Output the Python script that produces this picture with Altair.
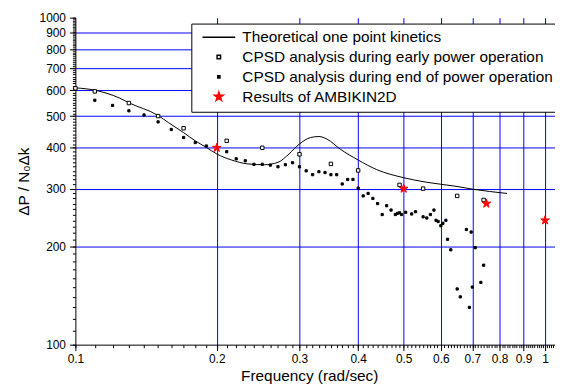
import altair as alt
import pandas as pd

# Theoretical one point kinetics curve
theory_f = [0.1, 0.11, 0.124, 0.13, 0.15, 0.158, 0.17, 0.18, 0.19, 0.2, 0.215, 0.233,
            0.2525, 0.27, 0.285, 0.3, 0.317, 0.33, 0.3435, 0.3665, 0.4, 0.438, 0.5,
            0.558, 0.646, 0.70, 0.83]
theory_v = [610, 600, 568, 549, 502, 477, 445, 420, 401, 383, 367, 357,
            355, 361, 383, 411, 430, 433, 425, 396, 367, 343, 324,
            314, 305, 299, 290]

# CPSD early power operation
early_f = [0.1, 0.11, 0.13, 0.15, 0.17, 0.21, 0.25, 0.30, 0.35, 0.40, 0.49, 0.55, 0.65, 0.74]
early_v = [608, 595, 548, 500, 459, 420, 400, 382, 357, 341, 308, 300, 285, 277]

# CPSD end of power operation
end_f = [0.11, 0.12, 0.13, 0.14, 0.15, 0.16, 0.17, 0.18, 0.19, 0.21, 0.22, 0.23, 0.24, 0.25,
         0.26, 0.27, 0.28, 0.29, 0.30, 0.31, 0.32, 0.33, 0.34, 0.35, 0.36, 0.37, 0.38, 0.39,
         0.40, 0.41, 0.42, 0.43, 0.44, 0.45, 0.46, 0.47, 0.48, 0.485, 0.49, 0.495, 0.505,
         0.52, 0.53, 0.55, 0.56, 0.57, 0.58, 0.586, 0.592, 0.60, 0.606, 0.615, 0.62, 0.63,
         0.65, 0.66, 0.68, 0.69, 0.696, 0.70, 0.71, 0.73, 0.74]
end_v = [559, 539, 519, 504, 480, 455, 430, 415, 405, 389, 370, 365, 356, 356,
         354, 350, 355, 360, 350, 340, 331, 338, 336, 331, 331, 310, 320, 320,
         301, 285, 290, 280, 270, 250, 266, 258, 250, 252, 253, 250, 254,
         251, 255, 246, 244, 250, 258, 240, 238, 231, 235, 240, 210, 195,
         148, 140, 225, 130, 221, 150, 198, 155, 175]

# AMBIKIN2D results
amb_f = [0.2, 0.5, 0.75, 1.0]
amb_v = [400, 300, 270, 240]

series_names = ["Theoretical one point kinetics",
                "CPSD analysis during early power operation",
                "CPSD analysis during end of power operation",
                "Results of AMBIKIN2D"]

x_major_ticks = [round(i / 10, 1) for i in range(1, 11)]
x_minor_ticks = [round(i / 100, 2) for i in range(10, 106)]
y_major_ticks = list(range(100, 1001, 100))
y_minor_ticks = list(range(100, 1001, 10))

STAR = ("M0,-1L0.2245,-0.309L0.9511,-0.309L0.3633,0.118L0.5878,0.809L0,0.382"
        "L-0.5878,0.809L-0.3633,0.118L-0.9511,-0.309L-0.2245,-0.309Z")
LINE_SYM = "M-8,0L8,0"

line_df = pd.DataFrame({"f": theory_f, "v": theory_v})
pts_df = pd.concat([
    pd.DataFrame({"f": early_f, "v": early_v, "series": series_names[1]}),
    pd.DataFrame({"f": end_f, "v": end_v, "series": series_names[2]}),
    pd.DataFrame({"f": amb_f, "v": amb_v, "series": series_names[3]}),
])

FONT = "Liberation Sans"

x_scale = alt.Scale(type="log", domain=[0.1, 1.05], nice=False)
y_scale = alt.Scale(type="log", domain=[100, 1000], nice=False)

x_axis_major = alt.Axis(
    orient="bottom", values=x_major_ticks, title="Frequency (rad/sec)",
    labelExpr="format(datum.value, '.1~f')",
    labelOverlap=False, labelFlush=False, labelBound=False, tickSize=6,
    grid=True, gridColor="#0000FF", gridWidth=1,
    gridOpacity={"condition": {"test": "datum.value > 0.15", "value": 1}, "value": 0},
    labelPadding=3, titlePadding=4, titleX=236,
)
y_axis_major = alt.Axis(
    orient="left", values=y_major_ticks, title="ΔP / N₀Δk",
    labelExpr="format(datum.value, 'd')",
    labelOverlap=False, labelFlush=False, labelBound=False, tickSize=6,
    grid=True, gridColor="#0000FF", gridWidth=1,
    gridOpacity={"condition": {"test": "datum.value > 150 && datum.value < 950", "value": 1}, "value": 0},
    labelPadding=4, titlePadding=8,
)
x_axis_minor = alt.Axis(orient="bottom", values=x_minor_ticks, title=None, labels=False,
                        domain=False, grid=False, tickSize=3)
y_axis_minor = alt.Axis(orient="left", values=y_minor_ticks, title=None, labels=False,
                        domain=False, grid=False, tickSize=3)

line = alt.Chart(line_df).mark_line(color="black", strokeWidth=1, interpolate="monotone").encode(
    x=alt.X("f:Q", scale=x_scale, axis=x_axis_major),
    y=alt.Y("v:Q", scale=y_scale, axis=y_axis_major),
)

legend = alt.Legend(
    title=None, orient="none", legendX=117, legendY=6,
    padding=6, strokeColor="black", fillColor="white",
    labelFont=FONT, labelFontSize=15.5, labelColor="black",
    labelOffset=16, rowPadding=3, symbolOffset=14, labelLimit=500,
)

points = alt.Chart(pts_df).mark_point(opacity=1, strokeWidth=1).encode(
    x=alt.X("f:Q", scale=x_scale, axis=x_axis_minor),
    y=alt.Y("v:Q", scale=y_scale, axis=y_axis_minor),
    shape=alt.Shape("series:N", scale=alt.Scale(domain=series_names,
                    range=[LINE_SYM, "square", "square", STAR]), legend=legend),
    fill=alt.Fill("series:N", scale=alt.Scale(domain=series_names,
                  range=["white", "white", "black", "red"]), legend=legend),
    stroke=alt.Stroke("series:N", scale=alt.Scale(domain=series_names,
                      range=["black", "black", "black", "red"]), legend=legend),
    size=alt.Size("series:N", scale=alt.Scale(type="ordinal", domain=series_names,
                  range=[17, 12, 5, 85]), legend=legend),
)

chart = alt.layer(line, points).resolve_axis(x="independent", y="independent").properties(
    width=484, height=330,
    autosize=alt.AutoSizeParams(type="none"),
    padding={"left": 68, "top": 8, "right": 0, "bottom": 41},
    background="white",
).configure_view(stroke=None).configure_axis(
    domainColor="black", domainWidth=1, tickColor="black", tickWidth=1,
    labelFont=FONT, labelFontSize=12, labelColor="black",
    titleFont=FONT, titleFontSize=15.5, titleFontWeight="normal", titleColor="black",
)

chart.save("out.html", embed_options={"renderer": "svg", "actions": False})
